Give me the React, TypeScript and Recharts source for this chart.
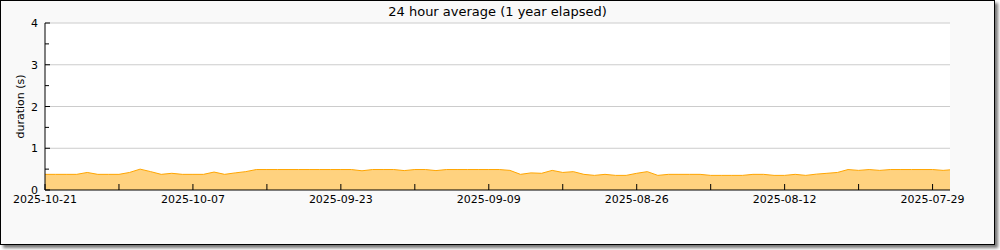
import { AreaChart, Area, XAxis, YAxis, CartesianGrid } from "recharts";

// days elapsed before 2025-10-21 (axis runs backwards in time)
const days = Array.from({ length: 87 }, (_, i) => i);

// 24h average duration in seconds, one reading per day
const durations = [
    0.375, 0.375, 0.375, 0.375, 0.42, 0.375, 0.375, 0.375, 0.42, 0.5,
    0.44, 0.375, 0.4, 0.375, 0.375, 0.375, 0.43, 0.375, 0.41, 0.44,
    0.49, 0.49, 0.49, 0.49, 0.49, 0.49, 0.49, 0.49, 0.49, 0.49,
    0.46, 0.49, 0.49, 0.49, 0.465, 0.49, 0.49, 0.465, 0.49, 0.49,
    0.49, 0.49, 0.49, 0.49, 0.47, 0.375, 0.41, 0.4, 0.47, 0.42,
    0.44, 0.375, 0.35, 0.375, 0.35, 0.35, 0.4, 0.44, 0.35, 0.375,
    0.375, 0.375, 0.375, 0.35, 0.35, 0.35, 0.35, 0.375, 0.375, 0.35,
    0.35, 0.375, 0.35, 0.38, 0.4, 0.42, 0.49, 0.47, 0.49, 0.47,
    0.49, 0.49, 0.49, 0.49, 0.49, 0.47, 0.49,
];

const xTicks = [0, 7, 14, 21, 28, 35, 42, 49, 56, 63, 70, 77, 84];
const xTickLabels = ["2025-10-21", "2025-10-07", "2025-09-23", "2025-09-09", "2025-08-26", "2025-08-12", "2025-07-29"];
const yTicks = [0, 0.5, 1, 1.5, 2, 2.5, 3, 3.5, 4];
const yGrid = [1, 2, 3, 4];

const data = days.map((d, i) => ({ day: d, value: durations[i] }));

const font = "'DejaVu Sans', sans-serif";

function XTick(props: any) {
    const { x, y, payload } = props;
    const v = payload.value;
    const label = v % 14 === 0 ? xTickLabels[v / 14] : null;
    return (
        <g>
            <line x1={x} x2={x} y1={y} y2={y - 6} stroke="#000" />
            {label && (
                <text x={x} y={y + 13} textAnchor="middle" fontSize={11} fontFamily={font} fill="#000">
                    {label}
                </text>
            )}
        </g>
    );
}

function YTick(props: any) {
    const { x, y, payload } = props;
    const v = payload.value;
    const major = Number.isInteger(v);
    return (
        <g>
            <line x1={x} x2={x + (major ? 5 : 4)} y1={y} y2={y} stroke="#000" />
            {major && (
                <text x={x - 7} y={y + 4} textAnchor="end" fontSize={11} fontFamily={font} fill="#000">
                    {v}
                </text>
            )}
        </g>
    );
}

export default function App() {
    return (
        <div
            style={{
                position: "absolute",
                left: 0,
                top: 0,
                width: 993,
                height: 243,
                border: "1px solid #000",
                background: "#f9f9f9",
                boxShadow: "3px 3px 3px #777",
                fontFamily: font,
            }}
        >
            <div
                style={{
                    position: "absolute",
                    left: 0,
                    top: 3,
                    width: 993,
                    textAlign: "center",
                    fontSize: 13,
                    color: "#000",
                }}
            >
                24 hour average (1 year elapsed)
            </div>
            <AreaChart width={993} height={243} data={data} margin={{ top: 22, right: 44, left: 0, bottom: 0 }}>
                <CartesianGrid vertical={false} horizontalValues={yGrid} stroke="#ccc" fill="#fff" />
                <XAxis
                    type="number"
                    dataKey="day"
                    domain={[0, 85.65]}
                    allowDataOverflow
                    ticks={xTicks}
                    interval={0}
                    height={54}
                    tickLine={false}
                    tickSize={0}
                    tickMargin={0}
                    axisLine={{ stroke: "#000" }}
                    tick={<XTick />}
                />
                <YAxis
                    type="number"
                    domain={[0, 4]}
                    ticks={yTicks}
                    interval={0}
                    width={44}
                    tickLine={false}
                    tickSize={0}
                    tickMargin={0}
                    axisLine={{ stroke: "#000" }}
                    tick={<YTick />}
                    label={(p: any) => {
                        const vb = p.viewBox;
                        const cy = vb.y + vb.height / 2;
                        return (
                            <text
                                x={19}
                                y={cy}
                                transform={`rotate(-90 19 ${cy})`}
                                textAnchor="middle"
                                dominantBaseline="central"
                                fontSize={11}
                                fontFamily={font}
                                fill="#000"
                            >
                                duration (s)
                            </text>
                        );
                    }}
                />
                <Area
                    type="linear"
                    dataKey="value"
                    stroke="#ffa500"
                    strokeWidth={1}
                    fill="#ffa500"
                    fillOpacity={0.5}
                    dot={false}
                    activeDot={false}
                    isAnimationActive={false}
                />
            </AreaChart>
        </div>
    );
}
